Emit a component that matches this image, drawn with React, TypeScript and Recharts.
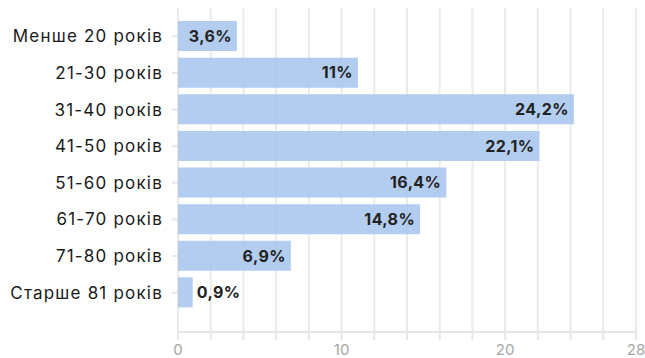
import { BarChart, Bar, XAxis, YAxis, CartesianGrid, LabelList } from "recharts";

const categories = [
  "Менше 20 років",
  "21-30 років",
  "31-40 років",
  "41-50 років",
  "51-60 років",
  "61-70 років",
  "71-80 років",
  "Старше 81 років",
];
const shares = [3.6, 11, 24.2, 22.1, 16.4, 14.8, 6.9, 0.9];
const xTicks = [0, 2, 4, 6, 8, 10, 12, 14, 16, 18, 20, 22, 24, 26, 28];
const labelledTicks = [0, 10, 20, 28];

const data = categories.map((name, i) => ({ name, value: shares[i] }));

const FONT = "Inter, 'Noto Sans', sans-serif";

const fmt = (v: number) => String(v).replace(".", ",") + "%";

function ValueLabel(props: any) {
  const { x, y, width, height, value } = props;
  const text = fmt(value);
  const textW = text.length * 10;
  const inside = width > textW + 10;
  const cy = y + height / 2;
  return (
    <text
      x={inside ? x + width - 5 : x + width + 4}
      y={cy}
      dy="0.36em"
      textAnchor={inside ? "end" : "start"}
      fontSize={16}
      fontWeight={700}
      letterSpacing={0.4}
      fill="#222"
      fontFamily={FONT}
    >
      {text}
    </text>
  );
}

export default function App() {
  return (
    <div style={{ position: "absolute", left: 0, top: 0, background: "#fff" }}>
      <BarChart
        width={645}
        height={358}
        data={data}
        layout="vertical"
        margin={{ top: 8, right: 9, bottom: 0, left: 0 }}
      >
        <CartesianGrid horizontal={false} stroke="#ebebeb" strokeWidth={2} />
        <XAxis
          type="number"
          domain={[0, 28]}
          ticks={xTicks}
          interval={0}
          height={26}
          stroke="#e6e6e6"
          strokeWidth={2}
          tickSize={8}
          tickFormatter={(v: number) => (labelledTicks.includes(v) ? String(v) : "")}
          tick={{ fill: "#a6a6a6", fontSize: 15, fontFamily: FONT }}
          tickMargin={4}
        />
        <YAxis
          type="category"
          dataKey="name"
          width={178}
          axisLine={false}
          tickLine={{ stroke: "#e6e6e6", strokeWidth: 2 }}
          tickSize={6}
          tickMargin={9}
          padding={{ top: 10, bottom: 21 }}
          tick={{ fill: "#1a1a1a", fontSize: 17, fontFamily: FONT, letterSpacing: 1.2 }}
          interval={0}
        />
        <Bar dataKey="value" fill="#a9c6ee" fillOpacity={0.88} barSize={30} isAnimationActive={false}>
          <LabelList dataKey="value" content={ValueLabel} />
        </Bar>
      </BarChart>
    </div>
  );
}
